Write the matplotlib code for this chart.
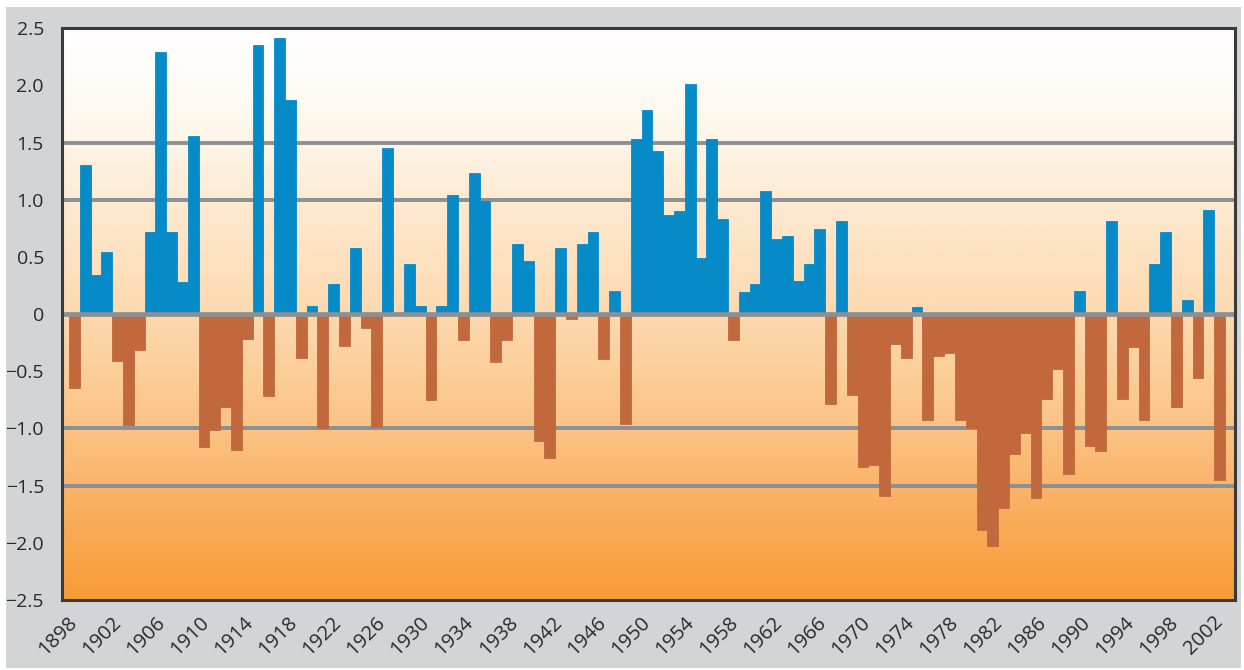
import numpy as np
import matplotlib
matplotlib.use('Agg')
import matplotlib.pyplot as plt
from matplotlib.colors import LinearSegmentedColormap
from matplotlib.patches import Rectangle

# Valores anuales (una barra por año, de izquierda a derecha)
valores = [
    -0.65, 1.30, 0.34, 0.54, -0.41, -0.97, -0.31, 0.72, 2.29, 0.72,
    0.28, 1.56, -1.16, -1.01, -0.81, -1.19, -0.22, 2.35, -0.72, 2.41,
    1.87, -0.38, 0.07, -1.00, 0.26, -0.28, 0.58, -0.12, -0.99, 1.45,
    0.00, 0.44, 0.07, -0.75, 0.07, 1.04, -0.23, 1.23, 0.99, -0.42,
    -0.23, 0.61, 0.46, -1.11, -1.26, 0.58, -0.04, 0.61, 0.72, -0.39,
    0.20, -0.96, 1.53, 1.78, 1.43, 0.87, 0.90, 2.01, 0.49, 1.53,
    0.83, -0.23, 0.19, 0.26, 1.08, 0.66, 0.68, 0.29, 0.44, 0.74,
    -0.79, 0.81, -0.71, -1.34, -1.32, -1.59, -0.26, -0.38, 0.06, -0.93,
    -0.37, -0.34, -0.93, -1.00, -1.89, -2.03, -1.70, -1.22, -1.04, -1.61,
    -0.74, -0.48, -1.40, 0.20, -1.15, -1.20, 0.81, -0.74, -0.29, -0.93,
    0.44, 0.72, -0.81, 0.12, -0.56, 0.91, -1.45,
]

# Etiquetas del eje x (cada 4 años) y del eje y
etiquetas_x = [str(a) for a in range(1898, 2003, 4)]
niveles_y = [2.5, 2.0, 1.5, 1.0, 0.5, 0.0, -0.5, -1.0, -1.5, -2.0, -2.5]
lineas_guia = [1.5, 1.0, -1.0, -1.5]

azul = '#078BC8'
marron = '#C1693D'
gris_linea = '#8A9094'
texto = '#2A2A2A'

plt.rcParams['font.family'] = ['Open Sans', 'DejaVu Sans']

fig = plt.figure(figsize=(12.44, 6.70), dpi=100, facecolor='white')
# Panel gris de fondo
fig.add_artist(Rectangle((0.005, 0.003), 0.9925, 0.987, transform=fig.transFigure,
                         facecolor='#D3D4D6', edgecolor='none', zorder=-10))
ax = fig.add_axes([0.0498, 0.1045, 0.9430, 0.8535])

n = len(valores)
x = np.arange(n)
xmin, xmax = -1.15, n - 0.5 + 0.93

# Degradado del fondo: blanco arriba, naranja abajo
degradado = LinearSegmentedColormap.from_list('fondo', [
    (0.0, '#F69C35'), (0.2, '#FAB46A'), (0.3, '#FBC385'), (0.5, '#FDD9AF'),
    (0.7, '#FDEAD2'), (0.8, '#FEF4E6'), (0.9, '#FFFCF7'), (1.0, '#FFFFFF')])
ax.imshow(np.linspace(1, 0, 256)[:, None], cmap=degradado, aspect='auto',
          extent=(xmin, xmax, -2.5, 2.5), zorder=0, interpolation='bilinear')

# Lineas guia horizontales
for nivel in lineas_guia:
    ax.axhline(nivel, color=gris_linea, lw=2.8, zorder=1)

# Barras: azules las positivas, marrones las negativas (sin separacion entre ellas)
colores = [azul if v >= 0 else marron for v in valores]
ax.bar(x, valores, width=1.0, color=colores, edgecolor=colores, linewidth=0.6, zorder=2)

# Linea del cero
ax.axhline(0, color=gris_linea, lw=3.4, zorder=3)

ax.set_xlim(xmin, xmax)
ax.set_ylim(-2.5, 2.5)

ax.set_yticks(niveles_y)
ax.set_yticklabels(['0' if v == 0 else f'{v:.1f}'.replace('-', '\u2212') for v in niveles_y],
                   fontsize=14, color=texto)
ax.set_xticks(np.linspace(0, n - 1, len(etiquetas_x)))
ax.set_xticklabels(etiquetas_x, rotation=45, ha='right', va='center',
                   rotation_mode='anchor', fontsize=14.5, color=texto)
ax.tick_params(axis='y', length=0, pad=13)
ax.tick_params(axis='x', length=0, pad=14)

for lado in ['left', 'right', 'top', 'bottom']:
    ax.spines[lado].set_color('#3A3A3A')
    ax.spines[lado].set_linewidth(2.2)
    ax.spines[lado].set_zorder(4)

fig.savefig('out.png', dpi=100, facecolor=fig.get_facecolor())
plt.close('all')
